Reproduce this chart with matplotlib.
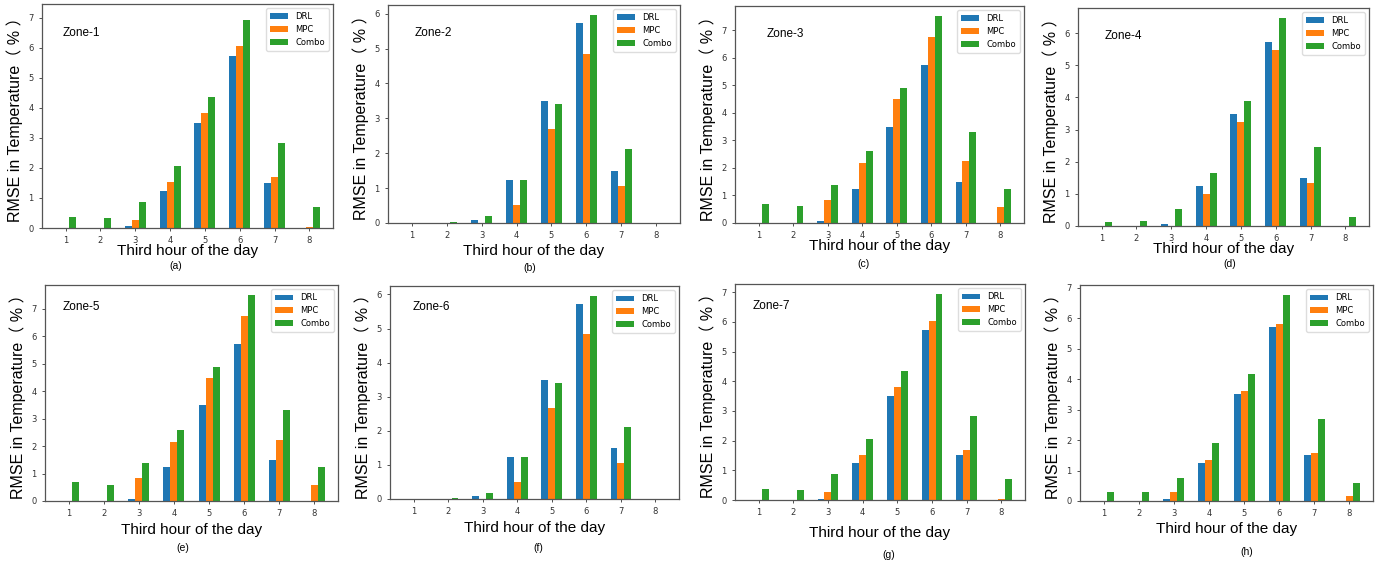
#!/usr/bin/env python

import numpy as np
from matplotlib import pyplot as plt

# Data: RMSE per third hour of the day, for each zone
hours = [1, 2, 3, 4, 5, 6, 7, 8]
series_names = ['DRL', 'MPC', 'Combo']
zone_names = ['Zone-1', 'Zone-2', 'Zone-3', 'Zone-4', 'Zone-5', 'Zone-6', 'Zone-7', '']
sub_captions = ['(a)', '(b)', '(c)', '(d)', '(e)', '(f)', '(g)', '(h)']

drl_1 = [0, 0, 0.05, 1.23, 3.50, 5.72, 1.50, 0]
mpc_1 = [0, 0, 0.27, 1.52, 3.82, 6.04, 1.70, 0.04]
combo_1 = [0.36, 0.34, 0.87, 2.07, 4.35, 6.93, 2.84, 0.70]

drl_2 = [0, 0, 0.08, 1.23, 3.50, 5.72, 1.50, 0]
mpc_2 = [0, 0, 0, 0.51, 2.68, 4.85, 1.05, 0]
combo_2 = [0, 0.03, 0.19, 1.23, 3.40, 5.95, 2.12, 0]

drl_3 = [0, 0, 0.07, 1.23, 3.50, 5.72, 1.50, 0]
mpc_3 = [0, 0, 0.83, 2.16, 4.50, 6.75, 2.24, 0.58]
combo_3 = [0.69, 0.60, 1.38, 2.60, 4.90, 7.50, 3.30, 1.23]

drl_4 = [0, 0, 0.07, 1.25, 3.50, 5.73, 1.50, 0]
mpc_4 = [0, 0, 0, 1.01, 3.25, 5.47, 1.35, 0]
combo_4 = [0.11, 0.17, 0.52, 1.65, 3.88, 6.46, 2.47, 0.27]

drl_8 = [0, 0, 0.07, 1.25, 3.50, 5.72, 1.50, 0]
mpc_8 = [0, 0, 0.31, 1.33, 3.60, 5.82, 1.58, 0.17]
combo_8 = [0.31, 0.29, 0.75, 1.90, 4.18, 6.75, 2.69, 0.60]

# zones 5, 6, 7 repeat zones 3, 2, 1
zone_data = [
    (drl_1, mpc_1, combo_1),
    (drl_2, mpc_2, combo_2),
    (drl_3, mpc_3, combo_3),
    (drl_4, mpc_4, combo_4),
    (drl_3, mpc_3, combo_3),
    (drl_2, mpc_2, combo_2),
    (drl_1, mpc_1, combo_1),
    (drl_8, mpc_8, combo_8),
]

W, H = 1386, 562

# axes boxes in pixels: left, top, right, bottom
boxes = [
    (42, 4, 333, 228), (388, 5, 680, 223), (735, 6, 1024, 223), (1078, 8, 1369, 226),
    (45, 285, 338, 501), (390, 286, 679, 499), (735, 284, 1025, 500), (1080, 285, 1373, 501),
]
ytops = [7.45, None, None, None, None, None, None, None]
xlabel_pads = [-1.3, 2.3, -1.3, -1.3, 3.7, 3.7, 6.6, 2.3]
zone_xy = [(0.07, 0.87), (0.09, 0.87), (0.11, 0.87), (0.09, 0.87),
           (0.06, 0.90), (0.08, 0.90), (0.06, 0.90), (0.06, 0.90)]
caption_xy = [(176, 266), (530, 268), (864, 264), (1230, 264),
              (183, 548), (538, 548), (889, 555), (1247, 552)]

colors = ['#1f77b4', '#ff7f0e', '#2ca02c']
width = 0.2
text_font = ['Liberation Sans', 'DejaVu Sans']
ylab_font = ['Liberation Sans', 'Noto Sans CJK SC', 'DejaVu Sans']

fig = plt.figure(figsize=(W / 100, H / 100), dpi=100)

x = np.array(hours)
for i, (data, box) in enumerate(zip(zone_data, boxes)):
    l, t, r, b = box
    ax = fig.add_axes([l / W, 1 - b / H, (r - l) / W, (b - t) / H])

    for k, (vals, name) in enumerate(zip(data, series_names)):
        ax.bar(x + (k - 1) * width, vals, width, color=colors[k], label=name)

    ax.set_xticks(hours)
    if ytops[i] is not None:
        ax.set_ylim(0, ytops[i])
    ax.tick_params(labelsize=6, length=2.5, width=0.6, colors='#333333')
    for sp in ax.spines.values():
        sp.set_color('#555555')
        sp.set_linewidth(0.9)

    ax.set_xlabel('Third hour of the day', fontsize=11, family=text_font,
                  labelpad=xlabel_pads[i])
    ax.set_ylabel('RMSE in Temperature\uff08 % \uff09', fontsize=11.5,
                  family=ylab_font, labelpad=4)

    if zone_names[i]:
        ax.text(zone_xy[i][0], zone_xy[i][1], zone_names[i], transform=ax.transAxes,
                fontsize=8.5, family=text_font, va='center', ha='left')

    ax.legend(loc='upper right', fontsize=6, handlelength=2.2, borderpad=0.5,
              labelspacing=0.45, framealpha=1, edgecolor='#dddddd', fancybox=True)

    cx, cy = caption_xy[i]
    fig.text(cx / W, 1 - cy / H, sub_captions[i], fontsize=7.5, family=text_font,
             ha='center', va='center')

plt.savefig('out.png', dpi=100)
plt.close()
